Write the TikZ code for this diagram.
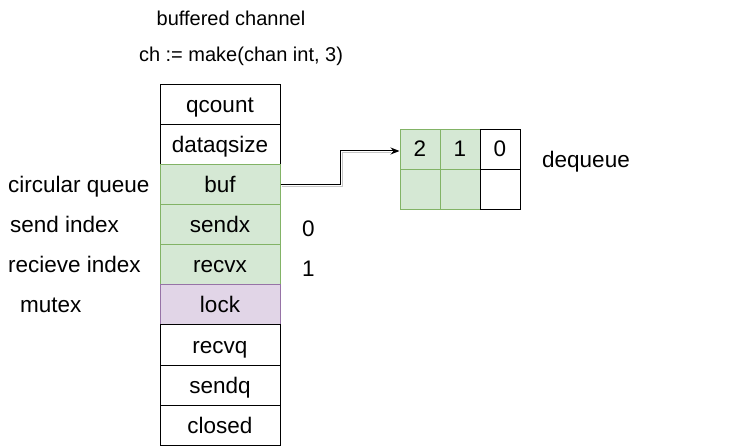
\documentclass[tikz,border=0pt]{standalone}
\usepackage{fontspec}
\setmainfont{Liberation Sans}
\usetikzlibrary{arrows.meta}
\definecolor{gfill}{HTML}{D5E8D4}
\definecolor{gline}{HTML}{82B366}
\definecolor{pfill}{HTML}{E1D5E7}
\definecolor{pline}{HTML}{9673A6}
\begin{document}
\begin{tikzpicture}[x=1pt,y=-1pt,
  cell/.style={draw=black,line width=1pt,minimum width=120pt,minimum height=40pt,inner sep=0pt,text height=20pt,text depth=4pt,font=\fontsize{22.5}{26}\selectfont},
  gcell/.style={cell,draw=gline,fill=gfill},
  pcell/.style={cell,draw=pline,fill=pfill},
  qcell/.style={draw=black,line width=1pt,minimum width=40pt,minimum height=40pt,inner sep=0pt,text height=19pt,text depth=5pt,font=\fontsize{22.5}{26}\selectfont},
  gqcell/.style={qcell,draw=gline,fill=gfill},
  lbl/.style={inner sep=0pt,anchor=base west,font=\fontsize{22.5}{26}\selectfont},
  ttl/.style={inner sep=0pt,anchor=base,font=\fontsize{20}{23}\selectfont}]
\useasboundingbox[fill=white] (0,0) rectangle (731,446);
% struct
\node[cell]  (qcount) at (220,105) {qcount};
\node[cell]  (dataq)  at (220,145) {dataqsize};
\node[gcell] (buf)    at (220,185) {buf};
\node[gcell] (sendx)  at (220,225) {sendx};
\node[gcell] (recvx)  at (220,265) {recvx};
\node[pcell] (lock)   at (220,305) {lock};
\node[cell]  (recvq)  at (220,345) {recvq};
\node[cell]  (sendq)  at (220,385) {sendq};
\node[cell]  (closed) at (220,425) {closed};
% titles
\node[ttl] (t1) at (231,26) {buffered channel};
\node[ttl] (t2) at (241,62) {ch := make(chan int, 3)};
% side labels
\node[lbl] (l1) at (8,192.5) {circular queue};
\node[lbl] (l2) at (10,232.5) {send index};
\node[lbl] (l3) at (8,272.5) {recieve index};
\node[lbl] (l4) at (20,312.5) {mutex};
\node[lbl] (n0) at (302,237) {0};
\node[lbl] (n1) at (302,277) {1};
% queue grid
\node[gqcell] (q1) at (420,150) {2};
\node[gqcell] (q2) at (460,150) {1};
\node[qcell]  (q3) at (500,150) {0};
\node[gqcell] (q4) at (420,190) {};
\node[gqcell] (q5) at (460,190) {};
\node[qcell]  (q6) at (500,190) {};
\node[lbl] (dq) at (542,167.5) {dequeue};
% connector
\coordinate (c1) at (340,185);
\coordinate (c2) at (340,151);
\draw[gray!45,line width=1pt] ([xshift=1pt,yshift=-2pt]buf.east) -- ([xshift=2pt,yshift=-2pt]c1) -- ([xshift=2pt,yshift=-2pt]c2) -- ([xshift=-9pt,yshift=-2pt]q1.west |- c2);
\draw[line width=1pt,-{Stealth[length=9pt,width=7pt]}] (buf.east) -- (c1) -- (c2) -- (q1.west |- c2);
\end{tikzpicture}
\end{document}
